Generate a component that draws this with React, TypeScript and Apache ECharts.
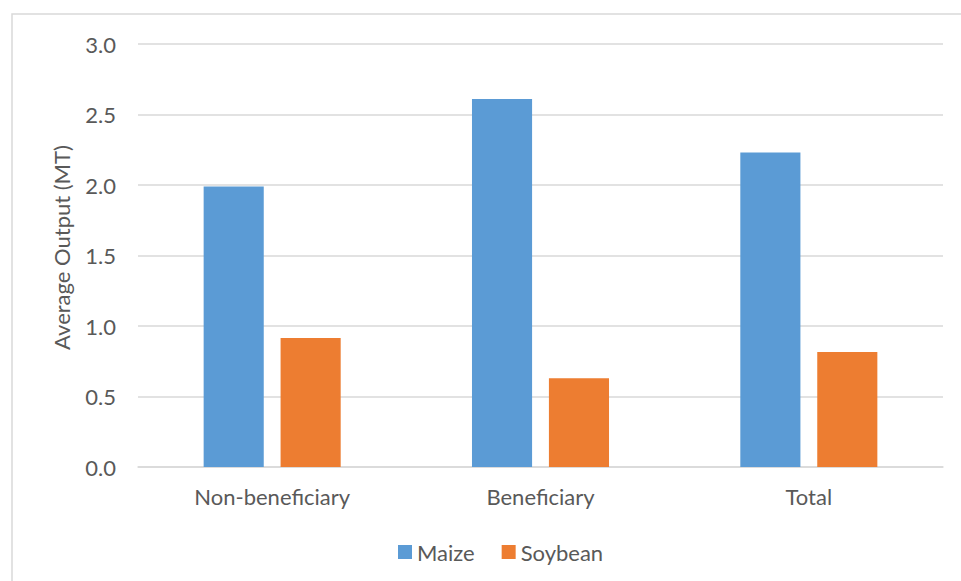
import React, { useEffect, useRef } from "react";
import * as echarts from "echarts";

const categories = ["Non-beneficiary", "Beneficiary", "Total"];
const maize = [1.99, 2.61, 2.23];
const soybean = [0.915, 0.63, 0.815];
const seriesNames = ["Maize", "Soybean"];

const FONT = "Lato, 'Open Sans', sans-serif";
const TEXT = "#595959";
const FS = 22;

export default function App() {
  const ref = useRef<HTMLDivElement>(null);
  useEffect(() => {
    const chart = echarts.init(ref.current!, null, { renderer: "svg" });
    chart.setOption({
      animation: false,
      backgroundColor: "#ffffff",
      textStyle: { fontFamily: FONT },
      graphic: [
        {
          type: "rect",
          shape: { x: 12, y: 14, width: 980, height: 600 },
          style: { fill: "none", stroke: "#d9d9d9", lineWidth: 1.5 },
          silent: true,
        },
      ],
      grid: { left: 138, right: 18, top: 44, bottom: 114 },
      legend: {
        data: seriesNames,
        left: 393,
        top: 536,
        itemWidth: 14,
        itemHeight: 14,
        itemGap: 27,
        icon: "rect",
        textStyle: { color: TEXT, fontSize: FS, fontFamily: FONT },
      },
      xAxis: {
        type: "category",
        data: categories,
        axisLine: { lineStyle: { color: "#d9d9d9", width: 1.5 } },
        axisTick: { show: false },
        axisLabel: { color: TEXT, fontSize: FS, margin: 18, fontFamily: FONT },
      },
      yAxis: {
        type: "value",
        min: 0,
        max: 3,
        interval: 0.5,
        name: "Average Output (MT)",
        nameLocation: "middle",
        nameGap: 66,
        nameTextStyle: {
          color: TEXT,
          fontSize: FS,
          fontFamily: FONT,
          padding: [0, 0, 0, 16],
        },
        axisLine: { show: false },
        axisTick: { show: false },
        axisLabel: {
          color: TEXT,
          fontSize: FS,
          margin: 22,
          fontFamily: FONT,
          formatter: (v: number) => v.toFixed(1),
        },
        splitLine: { lineStyle: { color: "#d9d9d9", width: 1.5 } },
      },
      series: [
        {
          name: seriesNames[0],
          type: "bar",
          data: maize,
          barWidth: "22.4%",
          barGap: "28%",
          itemStyle: { color: "#5b9bd5" },
        },
        {
          name: seriesNames[1],
          type: "bar",
          data: soybean,
          barWidth: "22.4%",
          barGap: "28%",
          itemStyle: { color: "#ed7d31" },
        },
      ],
    });
    return () => chart.dispose();
  }, []);
  return (
    <div
      ref={ref}
      style={{ position: "fixed", left: 0, top: 0, width: 961, height: 581 }}
    />
  );
}
